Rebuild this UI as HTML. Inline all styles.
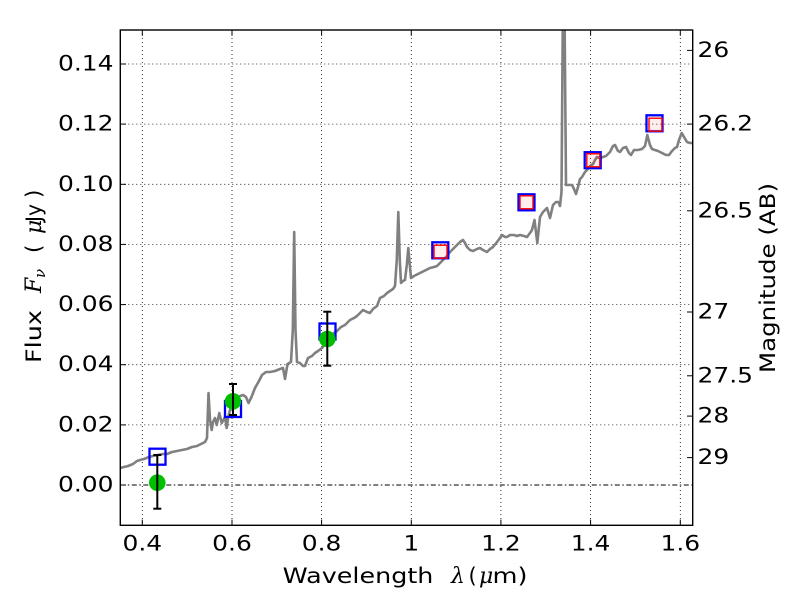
<!DOCTYPE html>
<html>
<head>
<meta charset="utf-8">
<style>
  html,body{margin:0;padding:0;background:#fff;}
  svg{display:block;}
  text{font-family:"DejaVu Sans","Liberation Sans",sans-serif;fill:#000;}
  .m{font-family:"DejaVu Serif","Liberation Serif",serif;font-style:italic;}
</style>
</head>
<body>
<svg width="800" height="600" viewBox="0 0 800 600" xmlns="http://www.w3.org/2000/svg">
  <defs>
    <clipPath id="ax"><rect x="120.3" y="30" width="572.4" height="495.3"/></clipPath>
  </defs>
  <rect x="0" y="0" width="800" height="600" fill="#fff"/>

  <!-- grid -->
  <g stroke="#000" stroke-width="0.8" stroke-dasharray="1,3" fill="none">
    <line x1="142.3" y1="30" x2="142.3" y2="525.3"/>
    <line x1="232" y1="30" x2="232" y2="525.3"/>
    <line x1="321.6" y1="30" x2="321.6" y2="525.3"/>
    <line x1="411.3" y1="30" x2="411.3" y2="525.3"/>
    <line x1="500.9" y1="30" x2="500.9" y2="525.3"/>
    <line x1="590.6" y1="30" x2="590.6" y2="525.3"/>
    <line x1="680.3" y1="30" x2="680.3" y2="525.3"/>
    <line x1="120.3" y1="424.9" x2="692.7" y2="424.9"/>
    <line x1="120.3" y1="364.7" x2="692.7" y2="364.7"/>
    <line x1="120.3" y1="304.6" x2="692.7" y2="304.6"/>
    <line x1="120.3" y1="244.4" x2="692.7" y2="244.4"/>
    <line x1="120.3" y1="184.3" x2="692.7" y2="184.3"/>
    <line x1="120.3" y1="124.1" x2="692.7" y2="124.1"/>
    <line x1="120.3" y1="64" x2="692.7" y2="64"/>
  </g>
  <!-- zero line dash-dot -->
  <line x1="120.3" y1="485" x2="692.7" y2="485" stroke="#000" stroke-width="0.9" stroke-dasharray="5,2.5,1.5,2.5"/>

  <!-- spectrum -->
  <g clip-path="url(#ax)">
    <polyline fill="none" stroke="#808080" stroke-width="2.6" stroke-linejoin="round" stroke-linecap="round"
      points="120,468 124,467 128,466 133,464 137,461 140,460 144,459 149,457 153,456 158,455 163,454 167,454 172,452 177,451 182,450 187,449 192,447 197,446 201,444 205,442 207,438 208.5,393 210,420 211.7,430 213,422 215,418 216.7,425 219.3,413 221.7,423 225,417 226.7,428 228,418 230,410 233,403 236,399 240,396 243,395 246,397 248.5,403 251.5,397 255,388 259,381 262,375 266,372 270,372 275,371 280,369 283,368 285,379 287.5,364 291,362 292.8,330 294.2,232 295.5,330 297,362 300,363 303,366 305,366 308,358 312,356 315,353 318,351 322,348 326,343 330,336 334,333 337,331 341,327 345,325 350,320 354,318 357,316 360,313 363,310 367,312 370,313 373,309 377,306 380,298 384,296 387,293 390,291 393,289 395,286 396.8,260 398.3,212 399.8,260 401,283 403,281 405,280 406.8,265 408.3,248 409.8,265 411,278 414,276 418,274 422,272 426,270 430,268 434,267 437,266 440,263 443,260 447,256 450,252 454,248 457,245 460,242 463,240 465,243 467,247 470,250 473,251 477,249 480,248 483,250 487,252 490,249 493,247 497,242 500,238 502,235 505,237 507,237 510,235 514,235 517,236 520,235 524,236 527,237 530,233 532,230 534.5,220 537.3,243 540,217 543,212 547,208 550,218 553,205 556,202 558.5,202 560,206 561.5,192 562.8,20 564.6,20 566,185 570,185 572,185 574,189 576,194 578,187 580,179 582,177 585,172 587,170 590,166 593,164 595,160 597,157 600,158 603,157 606,156 610,152 613,146 615,145 618,151 620,152 623,148 626,147 629,153 631,155 634,150 638,150 642,149 645,146 647.3,135 650,145 652,149 655,150 658,151 662,153 666,155 669,155 672,151 675,148 677,147 679,140 681.7,133 684,137 687,142 690,143 693,143"/>
  </g>

  <!-- blue squares -->
  <g fill="none" stroke="#0000ff" stroke-width="2.3">
    <rect x="149.5" y="448.7" width="16" height="16"/>
    <rect x="225" y="401" width="16" height="16"/>
    <rect x="319.5" y="323.5" width="16" height="16"/>
    <rect x="432.3" y="242.3" width="16" height="16"/>
    <rect x="518.5" y="194.3" width="16" height="16"/>
    <rect x="584.7" y="152.2" width="16" height="16"/>
    <rect x="646.5" y="115.3" width="16" height="16"/>
  </g>
  <!-- red squares -->
  <g fill="rgba(255,0,0,0.07)" stroke="#ff0000" stroke-width="1.4">
    <rect x="434" y="245.2" width="13" height="13"/>
    <rect x="520" y="195.8" width="13" height="13"/>
    <rect x="586.8" y="153.8" width="13" height="13"/>
    <rect x="649" y="118.2" width="13" height="13"/>
  </g>
  <!-- green circles -->
  <g fill="#00bf00">
    <circle cx="157.3" cy="482.7" r="8.3"/>
    <circle cx="233" cy="401.3" r="8.3"/>
    <circle cx="327.3" cy="339" r="8.3"/>
  </g>
  <!-- error bars -->
  <g stroke="#000" stroke-width="2" fill="none">
    <line x1="157.3" y1="455" x2="157.3" y2="508.7"/>
    <line x1="153.3" y1="455" x2="161.3" y2="455"/>
    <line x1="153.3" y1="508.7" x2="161.3" y2="508.7"/>
    <line x1="233" y1="384" x2="233" y2="415"/>
    <line x1="229" y1="384" x2="237" y2="384"/>
    <line x1="229" y1="415" x2="237" y2="415"/>
    <line x1="327.3" y1="311.7" x2="327.3" y2="365.7"/>
    <line x1="323.3" y1="311.7" x2="331.3" y2="311.7"/>
    <line x1="323.3" y1="365.7" x2="331.3" y2="365.7"/>
  </g>

  <!-- ticks -->
  <g stroke="#000" stroke-width="1">
    <!-- left -->
    <line x1="120.3" y1="485" x2="126" y2="485"/>
    <line x1="120.3" y1="424.9" x2="126" y2="424.9"/>
    <line x1="120.3" y1="364.7" x2="126" y2="364.7"/>
    <line x1="120.3" y1="304.6" x2="126" y2="304.6"/>
    <line x1="120.3" y1="244.4" x2="126" y2="244.4"/>
    <line x1="120.3" y1="184.3" x2="126" y2="184.3"/>
    <line x1="120.3" y1="124.1" x2="126" y2="124.1"/>
    <line x1="120.3" y1="64" x2="126" y2="64"/>
    <!-- bottom/top -->
    <line x1="142.3" y1="525.3" x2="142.3" y2="519.6"/>
    <line x1="232" y1="525.3" x2="232" y2="519.6"/>
    <line x1="321.6" y1="525.3" x2="321.6" y2="519.6"/>
    <line x1="411.3" y1="525.3" x2="411.3" y2="519.6"/>
    <line x1="500.9" y1="525.3" x2="500.9" y2="519.6"/>
    <line x1="590.6" y1="525.3" x2="590.6" y2="519.6"/>
    <line x1="680.3" y1="525.3" x2="680.3" y2="519.6"/>
    <line x1="142.3" y1="30" x2="142.3" y2="35.7"/>
    <line x1="232" y1="30" x2="232" y2="35.7"/>
    <line x1="321.6" y1="30" x2="321.6" y2="35.7"/>
    <line x1="411.3" y1="30" x2="411.3" y2="35.7"/>
    <line x1="500.9" y1="30" x2="500.9" y2="35.7"/>
    <line x1="590.6" y1="30" x2="590.6" y2="35.7"/>
    <line x1="680.3" y1="30" x2="680.3" y2="35.7"/>
    <!-- right magnitude -->
    <line x1="692.7" y1="50.4" x2="687" y2="50.4"/>
    <line x1="692.7" y1="124.1" x2="687" y2="124.1"/>
    <line x1="692.7" y1="210.8" x2="687" y2="210.8"/>
    <line x1="692.7" y1="312" x2="687" y2="312"/>
    <line x1="692.7" y1="375.8" x2="687" y2="375.8"/>
    <line x1="692.7" y1="416.1" x2="687" y2="416.1"/>
    <line x1="692.7" y1="457.6" x2="687" y2="457.6"/>
  </g>

  <!-- frame -->
  <rect x="120.3" y="30" width="572.4" height="495.3" fill="none" stroke="#000" stroke-width="1.4"/>

  <!-- left tick labels -->
  <g font-size="21.5" text-anchor="end">
    <text transform="translate(113.5,491.5) scale(1.16,1)">0.00</text>
    <text transform="translate(113.5,431.4) scale(1.16,1)">0.02</text>
    <text transform="translate(113.5,371.2) scale(1.16,1)">0.04</text>
    <text transform="translate(113.5,311.1) scale(1.16,1)">0.06</text>
    <text transform="translate(113.5,250.9) scale(1.16,1)">0.08</text>
    <text transform="translate(113.5,190.8) scale(1.16,1)">0.10</text>
    <text transform="translate(113.5,130.6) scale(1.16,1)">0.12</text>
    <text transform="translate(113.5,70.5) scale(1.16,1)">0.14</text>
  </g>
  <!-- bottom tick labels -->
  <g font-size="21.5" text-anchor="middle">
    <text transform="translate(142.3,550.5) scale(1.16,1)">0.4</text>
    <text transform="translate(232,550.5) scale(1.16,1)">0.6</text>
    <text transform="translate(321.6,550.5) scale(1.16,1)">0.8</text>
    <text transform="translate(411.3,550.5) scale(1.16,1)">1</text>
    <text transform="translate(500.9,550.5) scale(1.16,1)">1.2</text>
    <text transform="translate(590.6,550.5) scale(1.16,1)">1.4</text>
    <text transform="translate(680.3,550.5) scale(1.16,1)">1.6</text>
  </g>
  <!-- right tick labels -->
  <g font-size="21.5" text-anchor="start">
    <text transform="translate(697.5,56.9) scale(1.16,1)">26</text>
    <text transform="translate(697.5,130.6) scale(1.16,1)">26.2</text>
    <text transform="translate(697.5,217.3) scale(1.16,1)">26.5</text>
    <text transform="translate(697.5,318.5) scale(1.16,1)">27</text>
    <text transform="translate(697.5,382.3) scale(1.16,1)">27.5</text>
    <text transform="translate(697.5,422.6) scale(1.16,1)">28</text>
    <text transform="translate(697.5,464.1) scale(1.16,1)">29</text>
  </g>

  <!-- x label -->
  <g font-size="21">
    <text x="282.7" y="583" textLength="150.7" lengthAdjust="spacingAndGlyphs">Wavelength</text>
    <text x="451" y="583" class="m" font-size="22">λ</text>
    <text x="468.5" y="583">(</text>
    <text x="479" y="583" class="m" font-size="22">μ</text>
    <text x="492.5" y="583" textLength="35" lengthAdjust="spacingAndGlyphs">m)</text>
  </g>

  <!-- y label (left) -->
  <g transform="translate(41,363) rotate(-90)" font-size="21.5">
    <text x="0" y="0" textLength="53" lengthAdjust="spacingAndGlyphs">Flux</text>
    <text x="70" y="0" class="m" font-size="22">F</text>
    <text x="85" y="4" class="m" font-size="15">ν</text>
    <text x="110" y="0">(</text>
    <text x="129" y="0" class="m" font-size="22">μ</text>
    <text x="141" y="0" textLength="18" lengthAdjust="spacingAndGlyphs">Jy</text>
    <text x="165" y="0">)</text>
  </g>

  <!-- y label (right) -->
  <g transform="translate(775,373) rotate(-90)" font-size="21">
    <text x="0" y="0" textLength="190" lengthAdjust="spacingAndGlyphs">Magnitude (AB)</text>
  </g>
</svg>
</body>
</html>
